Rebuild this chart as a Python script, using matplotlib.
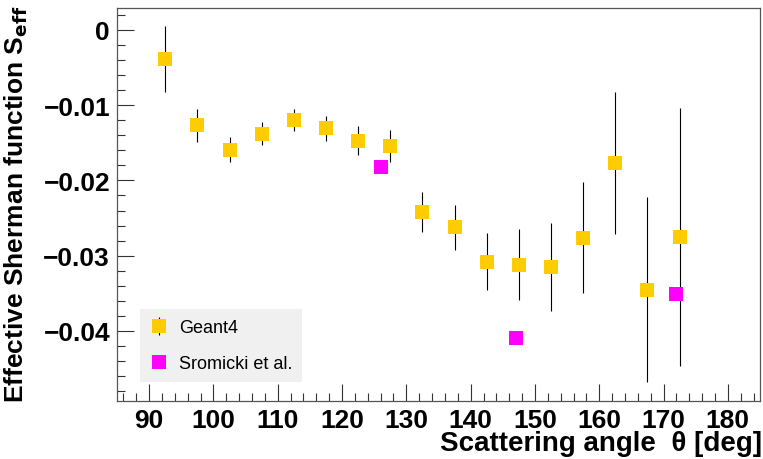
import numpy as np
import matplotlib.pyplot as plt
from matplotlib.ticker import MultipleLocator

plt.rcParams['font.family'] = ['Liberation Sans', 'DejaVu Sans']
plt.rcParams['font.weight'] = 'bold'
plt.rcParams['mathtext.default'] = 'bf'

# Geant4 simulation
geant_angle = [92.5, 97.5, 102.5, 107.5, 112.5, 117.5, 122.5, 127.5, 132.5,
               137.5, 142.5, 147.5, 152.5, 157.5, 162.5, 167.5, 172.5]
geant_seff = [-0.0039, -0.0127, -0.0159, -0.0138, -0.0120, -0.0131, -0.0147,
              -0.0154, -0.0242, -0.0262, -0.0308, -0.0312, -0.0315, -0.0276,
              -0.0177, -0.0345, -0.0275]
geant_err = [0.0044, 0.00225, 0.0017, 0.0015, 0.0015, 0.0017, 0.0019,
             0.0021, 0.0026, 0.0030, 0.0038, 0.0047, 0.0059, 0.0074,
             0.0094, 0.0123, 0.0171]

# Sromicki et al. measurement
srom_angle = [126, 147, 172]
srom_seff = [-0.0182, -0.0409, -0.0351]

fig = plt.figure(figsize=(7.63, 4.6), dpi=100)
ax = fig.add_axes([117 / 763, 58 / 460, 643 / 763, 393 / 460])

g4 = ax.errorbar(geant_angle, geant_seff, yerr=geant_err, fmt='s', color='#ffcc00',
                 ecolor='black', elinewidth=0.8, capsize=1.5, capthick=0.8,
                 markersize=10, markeredgewidth=0, label='Geant4')
sr, = ax.plot(srom_angle, srom_seff, 's', color='#ff00ff', markersize=10,
              markeredgewidth=0, label='Sromicki et al.')

ax.set_xlim(85, 185)
ax.set_ylim(-0.0493, 0.0029)

ax.xaxis.set_major_locator(MultipleLocator(10))
ax.xaxis.set_minor_locator(MultipleLocator(2))
ax.yaxis.set_minor_locator(MultipleLocator(0.002))
ax.set_yticks([0, -0.01, -0.02, -0.03, -0.04])
ax.set_yticklabels(['0', '\u22120.01', '\u22120.02', '\u22120.03', '\u22120.04'])
ax.tick_params(which='both', direction='in', top=False, right=False,
               color='#333333', width=0.8)
ax.tick_params(which='major', length=12, labelsize=19, pad=5)
ax.tick_params(which='minor', length=6)

for s in ax.spines.values():
    s.set_color('#555555')
    s.set_linewidth(0.9)

ax.set_xlabel('Scattering angle  \u03b8 [deg]', fontsize=20, fontweight='bold',
              ha='right', va='top')
ax.xaxis.set_label_coords(1.003, -0.075)
ax.set_ylabel(r'Effective Sherman function S$_{eff}$', fontsize=19,
              fontweight='bold', ha='right', va='bottom')
ax.yaxis.set_label_coords(-0.136, 1.01)

leg = ax.legend([g4, sr], ['Geant4', 'Sromicki et al.'], loc='lower left',
                bbox_to_anchor=(0.036, 0.048), borderaxespad=0, frameon=True,
                prop={'size': 13, 'weight': 'normal'}, handlelength=1.0,
                handletextpad=0.6, labelspacing=1.05, borderpad=0.55,
                fancybox=False)
leg.get_frame().set_facecolor('#f0f0f0')
leg.get_frame().set_edgecolor('none')
leg.get_frame().set_alpha(1)

fig.savefig('out.png', dpi=100)
